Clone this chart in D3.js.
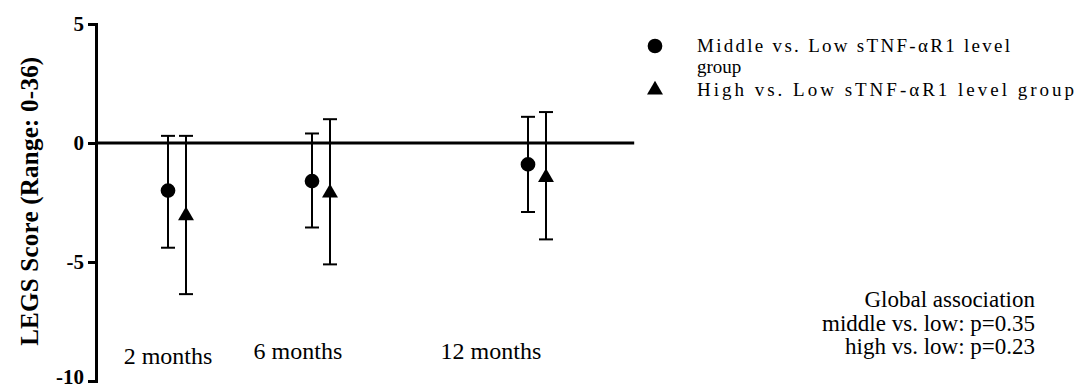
<!DOCTYPE html>
<html><head><meta charset="utf-8">
<script src="https://cdn.jsdelivr.net/npm/d3@7"></script>
<style>body{margin:0;background:#fff}svg{display:block}</style>
</head><body>
<svg id="c" width="1078" height="389"></svg>
<script>
const months = [2, 6, 12];
const monthLabels = ["2 months", "6 months", "12 months"];
const middleMean = [-2.0, -1.6, -0.9];
const middleLow = [-4.4, -3.55, -2.9];
const middleHigh = [0.3, 0.4, 1.1];
const highMean = [-3.05, -2.1, -1.45];
const highLow = [-6.35, -5.1, -4.05];
const highHigh = [0.3, 1.0, 1.3];
const yTicks = [5, 0, -5, -10];
const legendLabels = ["Middle vs. Low sTNF-\u03b1R1 level group", "High vs. Low sTNF-\u03b1R1 level group"];
const noteLines = ["Global association", "middle vs. low: p=0.35", "high vs. low: p=0.23"];

const svg = d3.select("#c");
const x = d3.scaleLinear().domain([-0.25, 14.75]).range([96, 636]);
const y = d3.scaleLinear().domain([-10, 5]).range([381, 24]);
const serif = "'Liberation Serif','Times New Roman',serif";

// y axis
const yAxis = d3.axisLeft(y).tickValues(yTicks).tickSize(8).tickPadding(4).tickFormat(d => String(d));
const ga = svg.append("g").attr("transform", `translate(${x(-0.25)},0)`).call(yAxis);
ga.select(".domain").attr("stroke", "#000").attr("stroke-width", 3);
ga.selectAll(".tick line").attr("stroke", "#000").attr("stroke-width", 3);
ga.selectAll(".tick text").attr("font-family", serif).attr("font-weight", "bold").attr("font-size", 21).attr("fill", "#000")
  .attr("dy", d => d === -10 ? "0.1em" : "0.32em");

// zero line
svg.append("line").attr("x1", x(-0.25)).attr("x2", x(14.7)).attr("y1", y(0)).attr("y2", y(0))
  .attr("stroke", "#000").attr("stroke-width", 3);

// axis title
svg.append("text").attr("transform", `translate(38,${y(-2.45)}) rotate(-90)`)
  .attr("text-anchor", "middle").attr("font-family", serif).attr("font-weight", "bold")
  .attr("font-size", 25).attr("textLength", 289).attr("lengthAdjust", "spacing")
  .text("LEGS Score (Range: 0-36)");

const series = [
  {mean: middleMean, lo: middleLow, hi: middleHigh, off: -0.25, shape: d3.symbolCircle, size: 170},
  {mean: highMean, lo: highLow, hi: highHigh, off: 0.25, shape: d3.symbolTriangle, size: 110}
];
const capW = 7;
series.forEach(s => {
  const g = svg.append("g");
  months.forEach((m, i) => {
    const cx = x(m + s.off);
    g.append("line").attr("x1", cx).attr("x2", cx).attr("y1", y(s.hi[i])).attr("y2", y(s.lo[i])).attr("stroke", "#000").attr("stroke-width", 2);
    [s.hi[i], s.lo[i]].forEach(v => g.append("line").attr("x1", cx - capW).attr("x2", cx + capW).attr("y1", y(v)).attr("y2", y(v)).attr("stroke", "#000").attr("stroke-width", 2));
    g.append("path").attr("d", d3.symbol().type(s.shape).size(s.size)()).attr("transform", `translate(${cx},${y(s.mean[i])})`).attr("fill", "#000");
  });
});

// month labels
const labelAt = [1.75, 5.36, 10.72];
svg.selectAll(".ml").data(monthLabels).join("text")
  .attr("x", (d, i) => x(labelAt[i])).attr("y", (d, i) => i === 0 ? 364 : 359)
  .attr("text-anchor", "middle").attr("font-family", serif).attr("font-size", 24).text(d => d);

// legend
const lg = svg.append("g");
lg.append("path").attr("d", d3.symbol().type(d3.symbolCircle).size(170)()).attr("transform", "translate(655,46)");
lg.append("text").attr("x", 697).attr("y", 52).attr("font-family", serif).attr("font-size", 19)
  .attr("textLength", 313).attr("lengthAdjust", "spacing").text("Middle vs. Low sTNF-\u03b1R1 level");
lg.append("text").attr("x", 697).attr("y", 73).attr("font-family", serif).attr("font-size", 19).text("group");
lg.append("path").attr("d", d3.symbol().type(d3.symbolTriangle).size(110)()).attr("transform", "translate(655,90)");
lg.append("text").attr("x", 697).attr("y", 96).attr("font-family", serif).attr("font-size", 19)
  .attr("textLength", 377).attr("lengthAdjust", "spacing").text(legendLabels[1]);

// note
svg.selectAll(".note").data(noteLines).join("text")
  .attr("x", 1035).attr("y", (d, i) => 307 + i * 23.5)
  .attr("text-anchor", "end").attr("font-family", serif).attr("font-size", 23).text(d => d);
</script>
</body></html>
